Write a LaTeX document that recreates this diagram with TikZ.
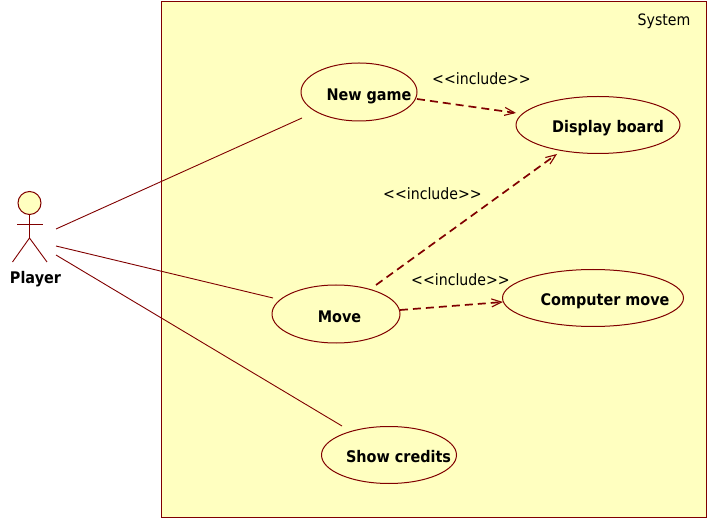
\documentclass[tikz,border=0pt]{standalone}
\usepackage{fontspec}
\setmainfont{DejaVu Sans}[FakeStretch=0.9]
\usetikzlibrary{shapes.geometric,arrows.meta}
\definecolor{umlline}{RGB}{128,0,0}
\definecolor{umlfill}{RGB}{255,255,192}
\tikzset{
  x=1pt,y=-1pt,
  usecase/.style={draw=umlline,ellipse,line width=1pt,inner sep=0pt,fill=umlfill},
  uclabel/.style={font=\fontsize{16}{18}\selectfont\bfseries,text=black,inner sep=0pt,anchor=base},
  inclabel/.style={font=\fontsize{15.7}{18}\selectfont,text=black,inner sep=0pt,anchor=base},
  assoc/.style={draw=umlline,line width=0.9pt},
  incl/.style={draw=umlline,line width=1.7pt,dash pattern=on 8pt off 5pt,
    -{Straight Barb[length=10pt,width=8pt,line width=1.1pt]}},
}
\begin{document}
\begin{tikzpicture}
\useasboundingbox (0,0) rectangle (709,518);
\node[draw=umlline,fill=umlfill,line width=0.9pt,minimum width=545pt,minimum height=516pt,inner sep=0pt,anchor=north west] (sys) at (161,1) {};
\node[inclabel] (systitle) at (664,26) {System};
\node[usecase,minimum width=116pt,minimum height=58pt] (newgame) at (359,92) {};
\node[usecase,minimum width=164pt,minimum height=57pt] (display) at (598,125) {};
\node[usecase,minimum width=128pt,minimum height=58pt] (move) at (336,314) {};
\node[usecase,minimum width=181pt,minimum height=57pt] (computer) at (593,298) {};
\node[usecase,minimum width=135pt,minimum height=57pt] (credits) at (389,455) {};
\node[uclabel] (newgamet) at (369,100.5) {New game};
\node[uclabel] (displayt) at (608,132.5) {Display board};
\node[uclabel] (movet) at (339.5,322.5) {Move};
\node[uclabel] (computert) at (605,305.5) {Computer move};
\node[uclabel] (creditst) at (398.5,462) {Show credits};
\node[inclabel] (inc1) at (481.5,84.5) {<{}<include>{}>};
\node[inclabel] (inc2) at (432.5,199.5) {<{}<include>{}>};
\node[inclabel] (inc3) at (460.5,285.5) {<{}<include>{}>};
% actor
\node[circle,draw=umlline,fill=umlfill,line width=1pt,minimum size=23pt,inner sep=0pt] (head) at (29.5,203) {};
\coordinate (hip) at (29.5,238);
\coordinate (arml) at (17,224);
\coordinate (armr) at (43,224);
\coordinate (legl) at (12.5,262);
\coordinate (legr) at (47,262);
\draw[assoc] (head.south) -- (hip);
\draw[assoc] (arml) -- (armr);
\draw[assoc] (legl) -- (hip) -- (legr);
\node[uclabel] (player) at (35.5,283.5) {Player};
% associations
\coordinate (a1s) at (56,229); \coordinate (a1e) at (302,118);
\coordinate (a2s) at (56,246); \coordinate (a2e) at (273,298);
\coordinate (a3s) at (56,255); \coordinate (a3e) at (342,426);
\draw[assoc] (a1s) -- (a1e);
\draw[assoc] (a2s) -- (a2e);
\draw[assoc] (a3s) -- (a3e);
% includes
\coordinate (i1s) at (417,99); \coordinate (i1e) at (516,113);
\coordinate (i2s) at (376,285); \coordinate (i2e) at (557,154);
\coordinate (i3s) at (400,310); \coordinate (i3e) at (503,302);
\draw[incl] (i1s) -- (i1e);
\draw[incl] (i2s) -- (i2e);
\draw[incl] (i3s) -- (i3e);
\end{tikzpicture}
\end{document}
